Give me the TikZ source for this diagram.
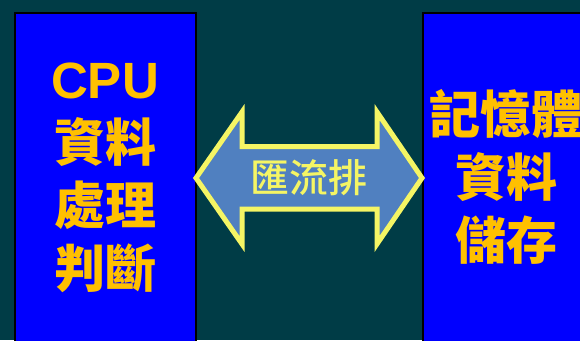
\documentclass[tikz,border=0pt]{standalone}
\usepackage{fontspec}
\newfontfamily\cjk{Noto Sans CJK TC}
\newfontfamily\cjkm{Noto Sans CJK TC Medium}
\newfontfamily\lsans{Liberation Sans}
\definecolor{bgteal}{RGB}{0,60,70}
\definecolor{boxblue}{RGB}{0,0,255}
\definecolor{gold}{RGB}{255,192,0}
\definecolor{arrowfill}{RGB}{80,128,192}
\definecolor{arrowline}{RGB}{245,245,100}
\tikzset{
  panel/.style={fill=boxblue,draw=black,line width=2pt},
  paneltext/.style={text=gold,align=center,font=\cjk\bfseries\fontsize{51}{63}\selectfont,inner sep=0pt},
  busarrow/.style={fill=arrowfill,draw=arrowline,line width=5pt,line join=miter},
  bustext/.style={text=arrowline,font=\cjkm\fontsize{39}{44}\selectfont,inner sep=0pt}
}
\begin{document}
\begin{tikzpicture}[x=1pt,y=-1pt]
\useasboundingbox (0,0) rectangle (580,340);
\clip (0,0) rectangle (580,340);
\fill[bgteal] (0,0) rectangle (580,340);
\draw[panel] (15,13) rectangle (196,360);
\draw[panel] (423,13) rectangle (610,360);
\node[paneltext] (cpu) at (105,178) {{\lsans\bfseries CPU}\\資料\\處理\\判斷};
\node[paneltext] (mem) at (506,177) {記憶體\\資料\\儲存};
\draw[busarrow] (196,178) -- (242,112) -- (242,146.5) -- (377,146.5) -- (377,112)
  -- (422,178) -- (377,244) -- (377,209) -- (242,209) -- (242,244) -- cycle;
\node[bustext] (bus) at (309,178) {匯流排};
\end{tikzpicture}
\end{document}
